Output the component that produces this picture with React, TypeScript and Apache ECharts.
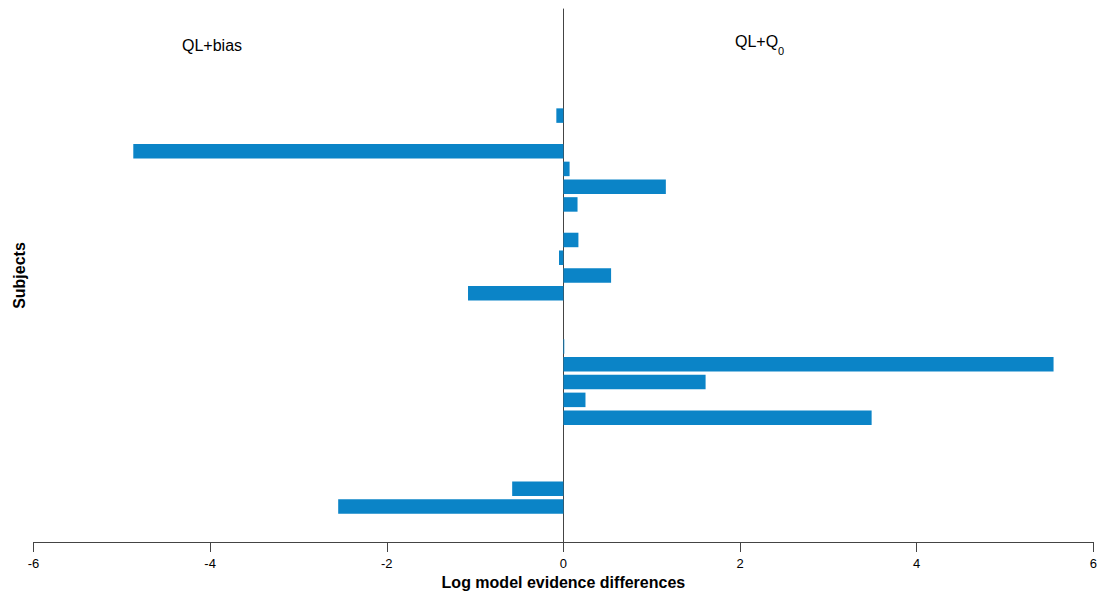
import React, { useEffect, useRef } from "react";
import * as echarts from "echarts";

// Log model evidence differences per subject, listed top to bottom.
// Negative favours QL+bias, positive favours QL+Q0.
const subjectDiffs: number[] = [
  -0.08, 0, -4.87, 0.07, 1.16, 0.16, 0, 0.17, -0.05, 0.54, -1.08, 0, 0,
  0.01, 5.55, 1.61, 0.25, 3.49, 0, 0, 0, -0.58, -2.55,
];

// Vertical slots on the subject axis (bottom = 0, top = 30).
const slotCount = 31;
const firstSubjectSlot = 2; // slot of the lowest subject

const xTicks = [-6, -4, -2, 0, 2, 4, 6];

const barColor = "#0b84c7";
const axisColor = "#444444";
const font = "Liberation Sans, Arial, sans-serif";

export default function App() {
  const ref = useRef<HTMLDivElement>(null);

  useEffect(() => {
    if (!ref.current) return;
    const chart = echarts.init(ref.current, undefined, { renderer: "svg" });

    const slots = Array.from({ length: slotCount }, (_, i) => String(i));
    const seriesData: (number | null)[] = slots.map(() => null);
    const n = subjectDiffs.length;
    subjectDiffs.forEach((v, i) => {
      seriesData[firstSubjectSlot + (n - 1 - i)] = v;
    });

    chart.setOption({
      animation: false,
      grid: {
        left: 33.5,
        right: 14.7,
        top: 9,
        bottom: 54,
        containLabel: false,
        outerBoundsMode: "none",
      },
      textStyle: { fontFamily: font },
      xAxis: {
        type: "value",
        min: xTicks[0],
        max: xTicks[xTicks.length - 1],
        interval: 2,
        axisLine: { show: true, onZero: false, lineStyle: { color: axisColor, width: 1 } },
        axisTick: { show: true, length: 10, lineStyle: { color: axisColor } },
        axisLabel: { color: "#000", fontSize: 13, margin: 15 },
        splitLine: { show: false },
        name: "Log model evidence differences",
        nameLocation: "middle",
        nameGap: 31.5,
        nameTextStyle: { color: "#000", fontSize: 16, fontWeight: "bold" },
      },
      yAxis: {
        type: "category",
        data: slots,
        boundaryGap: false,
        axisLine: { show: true, onZero: true, lineStyle: { color: axisColor, width: 1 } },
        axisTick: { show: false },
        axisLabel: { show: false },
        splitLine: { show: false },
        name: "Subjects",
        nameLocation: "middle",
        nameRotate: 90,
        nameGap: 6.5,
        nameTextStyle: { color: "#000", fontSize: 16, fontWeight: "bold" },
      },
      graphic: [
        {
          type: "text",
          left: 182,
          top: 37.5,
          style: { text: "QL+bias", fontSize: 16, fill: "#000", fontFamily: font },
        },
        {
          type: "text",
          left: 735,
          top: 33.5,
          style: { text: "QL+Q", fontSize: 16, fill: "#000", fontFamily: font },
        },
        {
          type: "text",
          left: 778,
          top: 45,
          style: { text: "0", fontSize: 11, fill: "#000", fontFamily: font },
        },
      ],
      series: [
        {
          type: "bar",
          data: seriesData,
          barWidth: 14.5,
          itemStyle: { color: barColor },
        },
      ],
    });

    return () => chart.dispose();
  }, []);

  return <div ref={ref} style={{ width: 1108, height: 596, position: "absolute", left: 0, top: 0 }} />;
}
